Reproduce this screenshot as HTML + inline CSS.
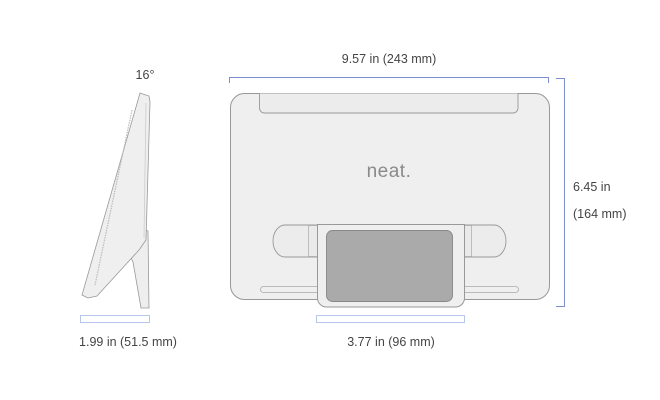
<!DOCTYPE html>
<html><head><style>
html,body{margin:0;padding:0;background:#fff;}
svg{display:block;}
text{font-family:"Liberation Sans",sans-serif;fill:#444;font-size:12.5px;}
</style></head><body>
<svg width="660" height="400" viewBox="0 0 660 400">
<!-- side view -->
<text x="145" y="79" text-anchor="middle">16°</text>
<path d="M140,228 L148,231 L149,308 L141,308 L133,262 L131,258 Z" fill="#eeeeee" stroke="#999" stroke-width="0.8"/>
<path d="M140,93 L149,96 L150,102 L146,240 L139,250 L97,296 L88,298 L82,295 Z" fill="#efefef" stroke="#999" stroke-width="0.8"/>
<path d="M132,110 L95,285" stroke="#bbb" stroke-width="1.2" stroke-dasharray="1.5,1"/>
<path d="M146,103 L144,238" stroke="#ccc" stroke-width="0.8"/>
<rect x="80.5" y="315.5" width="69" height="7" fill="none" stroke="#b8c6ec" stroke-width="1"/>
<text x="128" y="346" text-anchor="middle">1.99 in (51.5 mm)</text>

<!-- top dimension -->
<text x="389" y="63" text-anchor="middle">9.57 in (243 mm)</text>
<path d="M229.5,83 V77.5 H548.5 V83" fill="none" stroke="#7b8fce" stroke-width="1"/>
<!-- right dimension -->
<path d="M556,78.5 H564.5 V306.5 H556" fill="none" stroke="#7b8fce" stroke-width="1"/>
<text x="573" y="191">6.45 in</text>
<text x="573" y="218">(164 mm)</text>

<!-- front body -->
<rect x="230.5" y="93.5" width="319" height="206" rx="14" fill="#efefef" stroke="#999" stroke-width="1"/>
<path d="M259.5,93.5 V108 a5,5 0 0 0 5,5 H513 a5,5 0 0 0 5,-5 V93.5" fill="#ececec" stroke="#999" stroke-width="0.9"/>
<text x="389" y="177" text-anchor="middle" style="font-size:19px;fill:#8a8a8a;letter-spacing:0.5px">neat.</text>
<!-- bottom slots -->
<rect x="260.5" y="286.5" width="60" height="6" rx="3" fill="none" stroke="#aaa" stroke-width="0.8"/>
<rect x="461.5" y="286.5" width="57" height="6" rx="3" fill="none" stroke="#aaa" stroke-width="0.8"/>
<!-- handles -->
<path d="M317,225 H285 a12,16 0 0 0 0,32 H317" fill="#ececec" stroke="#999" stroke-width="0.9"/>
<path d="M463,225 H494 a12,16 0 0 1 0,32 H463" fill="#ececec" stroke="#999" stroke-width="0.9"/>
<rect x="308.5" y="225.5" width="9" height="31" fill="#eaeaea" stroke="#aaa" stroke-width="0.7"/>
<rect x="462.5" y="225.5" width="9" height="31" fill="#eaeaea" stroke="#aaa" stroke-width="0.7"/>
<!-- stand -->
<path d="M317.5,224.5 H464.5 V298 a9,9 0 0 1 -9,9 H326.5 a9,9 0 0 1 -9,-9 Z" fill="#efefef" stroke="#999" stroke-width="1"/>
<rect x="326.5" y="230.5" width="126" height="71" rx="6" fill="#aaaaaa" stroke="#888" stroke-width="0.9"/>
<!-- bottom dimension -->
<rect x="316.5" y="315.5" width="148" height="7" fill="none" stroke="#b8c6ec" stroke-width="1"/>
<text x="391" y="346" text-anchor="middle">3.77 in (96 mm)</text>
</svg>
</body></html>
